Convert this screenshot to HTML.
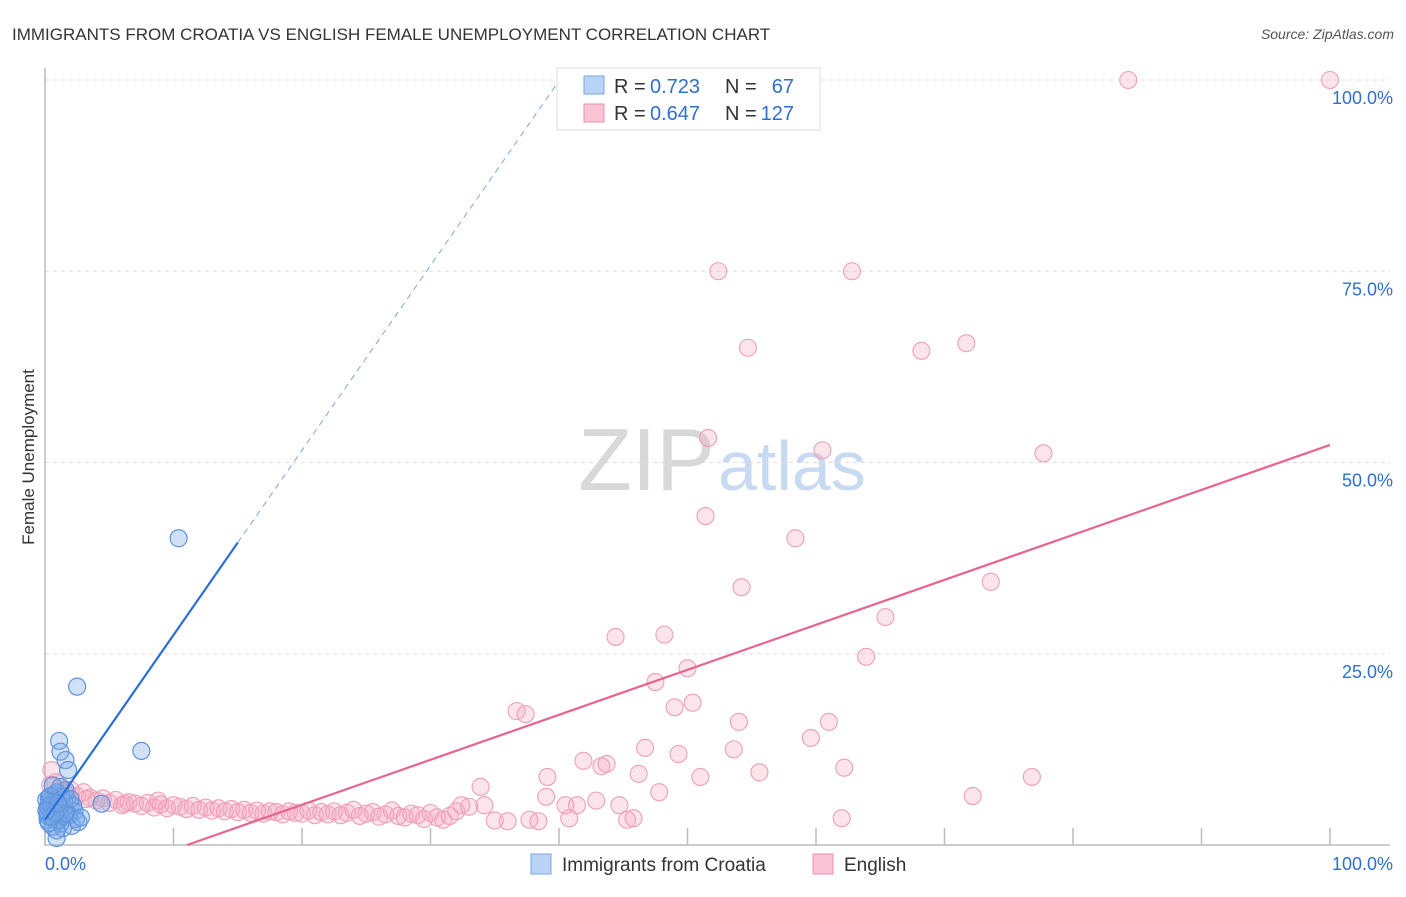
<!DOCTYPE html>
<html><head><meta charset="utf-8"><style>
body{margin:0;background:#fff;font-family:"Liberation Sans",sans-serif;}
svg text{font-family:"Liberation Sans",sans-serif;}
</style></head><body>
<svg id="chart" width="1406" height="892" xmlns="http://www.w3.org/2000/svg">
<text x="12" y="40" font-size="17" fill="#333">IMMIGRANTS FROM CROATIA VS ENGLISH FEMALE UNEMPLOYMENT CORRELATION CHART</text>
<text x="1394" y="39" font-size="14" fill="#555" font-style="italic" text-anchor="end">Source: ZipAtlas.com</text>
<text x="34" y="457" font-size="17" fill="#333" text-anchor="middle" transform="rotate(-90 34 457)">Female Unemployment</text>
<text x="715" y="490" font-size="88" fill="#d8d8d8" text-anchor="end" font-family="Liberation Serif">ZIP</text>
<text x="718" y="490" font-size="70" fill="#c8daf2">atlas</text>
<g id="grid"></g><g id="pts"></g><g id="lines"></g>
<g>
<rect x="557" y="68" width="263" height="62" fill="#fff" stroke="#ddd"/>
<rect x="584" y="76" width="20" height="18" fill="#b8d3f5" stroke="#7aa7e0"/>
<text x="614" y="93" font-size="20" fill="#333">R =</text>
<text x="650" y="93" font-size="20" fill="#2f6fd0">0.723</text>
<text x="725" y="93" font-size="20" fill="#333">N =</text>
<text x="794" y="93" font-size="20" fill="#2f6fd0" text-anchor="end">67</text>
<rect x="584" y="104" width="20" height="18" fill="#f9c5d5" stroke="#e990ad"/>
<text x="614" y="120" font-size="20" fill="#333">R =</text>
<text x="650" y="120" font-size="20" fill="#2f6fd0">0.647</text>
<text x="725" y="120" font-size="20" fill="#333">N =</text>
<text x="794" y="120" font-size="20" fill="#2f6fd0" text-anchor="end">127</text>
</g>
<g>
<rect x="531" y="854" width="20" height="20" fill="#b8d3f5" stroke="#7aa7e0"/>
<text x="562" y="871" font-size="19" fill="#333">Immigrants from Croatia</text>
<rect x="813" y="854" width="20" height="20" fill="#f9c5d5" stroke="#e990ad"/>
<text x="844" y="871" font-size="19" fill="#333">English</text>
</g>
</svg>
<script>
const yTicks=[25,50,75,100];
const yTickLabels=["25.0%","50.0%","75.0%","100.0%"];
const xTicks=[0,10,20,30,40,50,60,70,80,90,100];
const blueX=[2.5,10.4,7.5,1.1,1.2,1.6,1.8,4.4,0.9,2.1,0.2,0.4,0.6,0.8,1.0,1.3,1.5,1.7,2.0,2.3,0.3,0.5,0.7,0.9,1.1,1.4,1.6,1.9,2.2,0.2,0.4,0.6,0.8,1.0,1.2,0.3,0.5,0.7,0.9,1.5,1.8,2.4,0.1,0.3,0.6,1.0,1.3,0.2,0.5,0.8,1.2,2.6,1.4,0.4,0.7,0.2,1.1,0.6,0.9,1.6,2.0,0.3,0.5,0.8,1.0,0.1,2.8];
const blueY=[20.7,40.1,12.3,13.6,12.2,11.1,9.8,5.4,0.9,2.5,5,4.5,4,5.5,4.2,3.8,4.8,6,5.2,4.4,6.2,3.6,4.9,5.7,3.2,4.6,7.2,3.9,5.1,4.1,5.8,3.5,6.6,4.7,2.8,5.3,4.3,3.9,6.9,5.6,4,3.4,5.9,4.8,2.4,3.3,6.3,3.8,5.2,4.4,7.6,3.0,2.2,6.4,4.6,3.3,5.0,7.8,1.9,4.1,6.0,2.9,3.7,4.2,5.4,4.5,3.6];
const pinkX=[84.3,100,52.4,62.8,54.7,68.2,71.7,51.6,60.5,77.7,51.4,58.4,54.2,73.6,44.4,48.2,65.4,63.9,50,47.5,49,50.4,36.7,37.4,54,61,59.6,46.7,49.3,53.6,41.9,43.3,43.7,46.2,51,55.6,62.2,76.8,39.1,33.9,39,72.2,47.8,42.9,44.7,40.5,41.4,34.2,32.4,45.3,62,45.8,40.8,37.7,38.4,36,0.5,0.8,1.2,1.6,2,2.5,3,3.5,4,4.5,5,5.5,6,6.5,7,7.5,8,8.5,9,9.5,10,10.5,11,11.5,12,12.5,13,13.5,14,14.5,15,15.5,16,16.5,17,17.5,18,18.5,19,19.5,20,20.5,21,21.5,22,22.5,23,23.5,24,24.5,25,25.5,26,26.5,27,27.5,28,28.5,29,29.5,30,30.5,31,31.5,32,33,35,0.4,1,1.5,3.2,6.2,8.8];
const pinkY=[100,100,75,75,65,64.6,65.6,53.2,51.6,51.2,43,40.1,33.7,34.4,27.2,27.5,29.8,24.6,23.1,21.3,18,18.6,17.5,17.1,16.1,16.1,14,12.7,11.9,12.5,11,10.3,10.6,9.3,8.9,9.5,10.1,8.9,8.9,7.6,6.3,6.4,6.9,5.8,5.2,5.2,5.2,5.2,5.2,3.3,3.5,3.5,3.5,3.3,3.1,3.1,9.8,8.2,7.6,6.8,7.2,6.4,6.9,6.2,5.8,6.1,5.5,5.9,5.2,5.6,5.4,5.1,5.5,4.9,5.3,4.8,5.2,5.0,4.7,5.1,4.6,4.9,4.5,4.8,4.4,4.7,4.3,4.6,4.2,4.5,4.1,4.4,4.3,4.0,4.4,4.2,4.1,4.5,3.9,4.3,4.0,4.4,3.9,4.2,4.6,3.8,4.1,4.3,3.7,4.0,4.5,3.8,3.6,4.1,3.9,3.4,4.2,3.6,3.3,3.8,4.4,5,3.2,7.8,6.6,7.0,6.0,5.4,5.8];
const blueFit=[3.3,2.415];
const pinkFit=[-6.5,0.588];
const X=v=>45+12.85*v, Y=v=>845-7.65*v;
const NS="http://www.w3.org/2000/svg";
function mk(t,a,p){const e=document.createElementNS(NS,t);for(const k in a)e.setAttribute(k,a[k]);p.appendChild(e);return e;}
const grid=document.getElementById('grid');
yTicks.forEach((t,i)=>{
 const l=mk('line',{x1:45,x2:1390,y1:Y(t),y2:Y(t),stroke:'#ddd','stroke-dasharray':'4,4'},grid);
 
 
 const tx=mk('text',{x:1393,y:Y(t)+24,'font-size':18,fill:'#2f6fd0','text-anchor':'end'},grid);
 tx.textContent=yTickLabels[i];
 
 
});
const ax=mk('path',{d:'M45 68V845H1390',fill:'none',stroke:'#bbb','stroke-width':1.5},grid);


xTicks.forEach(t=>{
 const l=mk('line',{x1:X(t),x2:X(t),y1:828,y2:845,stroke:'#bbb','stroke-width':1.5},grid);
 
 
});
const xl0=mk('text',{x:45,y:870,'font-size':18,fill:'#2f6fd0'},grid);xl0.textContent='0.0%';


const xl1=mk('text',{x:1393,y:870,'font-size':18,fill:'#2f6fd0','text-anchor':'end'},grid);xl1.textContent='100.0%';


const pts=document.getElementById('pts');
pinkX.forEach((x,i)=>{
 const c=mk('circle',{cx:X(x),cy:Y(pinkY[i]),r:8.5,fill:'rgba(246,165,190,0.3)',stroke:'#ee9fb8','stroke-width':1.1},pts);
 
 
});
blueX.forEach((x,i)=>{
 const c=mk('circle',{cx:X(x),cy:Y(blueY[i]),r:8.5,fill:'rgba(120,170,232,0.35)',stroke:'#5e93dc','stroke-width':1.2},pts);
 
 
});
const ln=document.getElementById('lines');
const bEnd=15, bDash=(100-blueFit[0])/blueFit[1];
const b1=mk('line',{x1:X(0),y1:Y(blueFit[0]),x2:X(bEnd),y2:Y(blueFit[0]+blueFit[1]*bEnd),stroke:'#2a6fd6','stroke-width':2.2},ln);


const b2=mk('line',{x1:X(bEnd),y1:Y(blueFit[0]+blueFit[1]*bEnd),x2:X(bDash),y2:Y(100),stroke:'#7aa5e3','stroke-width':1,'stroke-dasharray':'6,5'},ln);


const p0=-pinkFit[0]/pinkFit[1];
const p1=mk('line',{x1:X(p0),y1:Y(0),x2:X(100),y2:Y(pinkFit[0]+pinkFit[1]*100),stroke:'#e8648f','stroke-width':2.2},ln);


</script>
</body></html>
